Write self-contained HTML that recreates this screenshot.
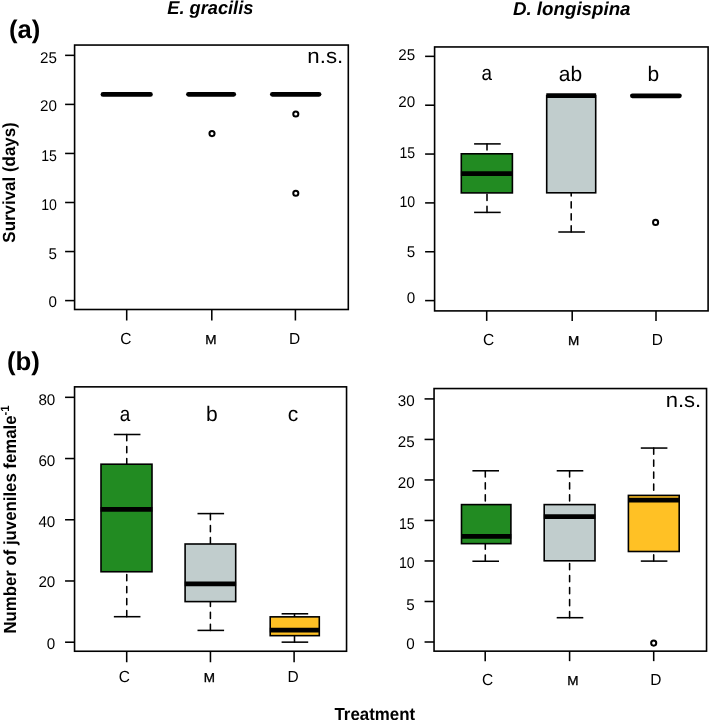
<!DOCTYPE html>
<html><head><meta charset="utf-8"><style>
html,body{margin:0;padding:0;background:#fff;overflow:hidden}
svg{display:block;will-change:transform}
text{font-family:"Liberation Sans", sans-serif;fill:#000;text-rendering:geometricPrecision}
</style></head><body>
<svg width="709" height="720" viewBox="0 0 709 720" font-family='"Liberation Sans", sans-serif'>
<rect width="709" height="720" fill="#fff"/>
<line x1="65.1" y1="300.6" x2="74.6" y2="300.6" stroke="#000" stroke-width="1.55" />
<text transform="translate(56.9 307.1) scale(0.98 1.0)" font-size="15.5" text-anchor="end" font-weight="normal" font-style="normal" >0</text>
<line x1="65.1" y1="251.55" x2="74.6" y2="251.55" stroke="#000" stroke-width="1.55" />
<text transform="translate(56.9 258.75) scale(0.98 1.0)" font-size="15.5" text-anchor="end" font-weight="normal" font-style="normal" >5</text>
<line x1="65.1" y1="202.5" x2="74.6" y2="202.5" stroke="#000" stroke-width="1.55" />
<text transform="translate(56.9 209.9) scale(0.9114 1.0)" font-size="15.5" text-anchor="end" font-weight="normal" font-style="normal" >10</text>
<line x1="65.1" y1="153.45" x2="74.6" y2="153.45" stroke="#000" stroke-width="1.55" />
<text transform="translate(56.9 160.55) scale(0.9114 1.0)" font-size="15.5" text-anchor="end" font-weight="normal" font-style="normal" >15</text>
<line x1="65.1" y1="104.4" x2="74.6" y2="104.4" stroke="#000" stroke-width="1.55" />
<text transform="translate(56.9 110.6) scale(0.98 1.0)" font-size="15.5" text-anchor="end" font-weight="normal" font-style="normal" >20</text>
<line x1="65.1" y1="55.35" x2="74.6" y2="55.35" stroke="#000" stroke-width="1.55" />
<text transform="translate(56.9 62.95) scale(0.98 1.0)" font-size="15.5" text-anchor="end" font-weight="normal" font-style="normal" >25</text>
<line x1="126.7" y1="309.5" x2="126.7" y2="320.5" stroke="#000" stroke-width="1.55" />
<text transform="translate(125.8 344.4) scale(1.0 1.04)" font-size="15.5" text-anchor="middle" font-weight="normal" font-style="normal" >C</text>
<line x1="211.8" y1="309.5" x2="211.8" y2="320.5" stroke="#000" stroke-width="1.55" />
<text transform="translate(210.8 344.4) scale(1.08 1.04)" font-size="12.5" text-anchor="middle" font-weight="normal" font-style="normal" stroke="#000" stroke-width="0.3">M</text>
<line x1="295.4" y1="309.5" x2="295.4" y2="320.5" stroke="#000" stroke-width="1.55" />
<text transform="translate(294.7 344.4) scale(1.0 1.04)" font-size="15.5" text-anchor="middle" font-weight="normal" font-style="normal" >D</text>
<line x1="102.95" y1="94.4" x2="150.45" y2="94.4" stroke="#000" stroke-width="4.7" stroke-linecap="round"/>
<line x1="188.45" y1="94.35" x2="233.75" y2="94.35" stroke="#000" stroke-width="4.7" stroke-linecap="round"/>
<circle cx="212" cy="133.6" r="2.55" fill="none" stroke="#000" stroke-width="2.0"/>
<line x1="272.35" y1="94.35" x2="319.05" y2="94.35" stroke="#000" stroke-width="4.7" stroke-linecap="round"/>
<circle cx="295.8" cy="114.05" r="2.55" fill="none" stroke="#000" stroke-width="2.0"/>
<circle cx="295.8" cy="193.2" r="2.55" fill="none" stroke="#000" stroke-width="2.0"/>
<rect x="74.6" y="45.05" width="273.7" height="264.45" fill="none" stroke="#000" stroke-width="1.6"/>
<text transform="translate(325.3 63.4) scale(1.06 1)" font-size="21" text-anchor="middle" font-weight="normal" font-style="normal" >n.s.</text>
<line x1="425.1" y1="300.6" x2="434.6" y2="300.6" stroke="#000" stroke-width="1.55" />
<text transform="translate(415.2 303.2) scale(0.98 1.0)" font-size="15.5" text-anchor="end" font-weight="normal" font-style="normal" >0</text>
<line x1="425.1" y1="251.75" x2="434.6" y2="251.75" stroke="#000" stroke-width="1.55" />
<text transform="translate(415.2 256.55) scale(0.98 1.0)" font-size="15.5" text-anchor="end" font-weight="normal" font-style="normal" >5</text>
<line x1="425.1" y1="202.9" x2="434.6" y2="202.9" stroke="#000" stroke-width="1.55" />
<text transform="translate(415.2 206.7) scale(0.9114 1.0)" font-size="15.5" text-anchor="end" font-weight="normal" font-style="normal" >10</text>
<line x1="425.1" y1="154.05" x2="434.6" y2="154.05" stroke="#000" stroke-width="1.55" />
<text transform="translate(415.2 157.65) scale(0.9114 1.0)" font-size="15.5" text-anchor="end" font-weight="normal" font-style="normal" >15</text>
<line x1="425.1" y1="105.2" x2="434.6" y2="105.2" stroke="#000" stroke-width="1.55" />
<text transform="translate(415.2 107.4) scale(0.98 1.0)" font-size="15.5" text-anchor="end" font-weight="normal" font-style="normal" >20</text>
<line x1="425.1" y1="56.35" x2="434.6" y2="56.35" stroke="#000" stroke-width="1.55" />
<text transform="translate(415.2 59.95) scale(0.98 1.0)" font-size="15.5" text-anchor="end" font-weight="normal" font-style="normal" >25</text>
<line x1="486.7" y1="310.9" x2="486.7" y2="320.9" stroke="#000" stroke-width="1.55" />
<text transform="translate(488.5 344.6) scale(1.0 1.04)" font-size="15.5" text-anchor="middle" font-weight="normal" font-style="normal" >C</text>
<line x1="572.2" y1="310.9" x2="572.2" y2="320.9" stroke="#000" stroke-width="1.55" />
<text transform="translate(573.7 344.6) scale(1.08 1.04)" font-size="12.5" text-anchor="middle" font-weight="normal" font-style="normal" stroke="#000" stroke-width="0.3">M</text>
<line x1="656" y1="310.9" x2="656" y2="320.9" stroke="#000" stroke-width="1.55" />
<text transform="translate(657.3 344.6) scale(1.0 1.04)" font-size="15.5" text-anchor="middle" font-weight="normal" font-style="normal" >D</text>
<line x1="487" y1="143.9" x2="487" y2="153.8" stroke="#000" stroke-width="1.55" stroke-dasharray="6.2 5.8" stroke-linecap="round"/>
<line x1="474.1" y1="143.9" x2="500.7" y2="143.9" stroke="#000" stroke-width="1.55" />
<line x1="487" y1="212.4" x2="487" y2="192.9" stroke="#000" stroke-width="1.55" stroke-dasharray="6.2 5.8" stroke-linecap="round"/>
<line x1="474.1" y1="212.4" x2="500.7" y2="212.4" stroke="#000" stroke-width="1.55" />
<rect x="461.3" y="153.8" width="51.1" height="39.1" fill="#228B22" stroke="#000" stroke-width="1.6"/>
<line x1="460.9" y1="173.6" x2="512.8" y2="173.6" stroke="#000" stroke-width="4.7" />
<line x1="571.2" y1="232" x2="571.2" y2="192.8" stroke="#000" stroke-width="1.55" stroke-dasharray="6.2 5.8" stroke-linecap="round"/>
<line x1="558.3" y1="232" x2="584.9" y2="232" stroke="#000" stroke-width="1.55" />
<rect x="546.7" y="95.6" width="49" height="97.2" fill="#C1CDCD" stroke="#000" stroke-width="1.6"/>
<line x1="546.3" y1="95.6" x2="596.1" y2="95.6" stroke="#000" stroke-width="4.7" />
<line x1="632.35" y1="95.85" x2="679.45" y2="95.85" stroke="#000" stroke-width="4.7" stroke-linecap="round"/>
<circle cx="655.6" cy="222.4" r="2.55" fill="none" stroke="#000" stroke-width="2.0"/>
<rect x="434.6" y="46.95" width="273.5" height="263.95" fill="none" stroke="#000" stroke-width="1.6"/>
<text transform="translate(486.7 80.4) scale(0.9 1)" font-size="21" text-anchor="middle" font-weight="normal" font-style="normal" >a</text>
<text transform="translate(570.4 80.5)" font-size="21" text-anchor="middle" font-weight="normal" font-style="normal" >ab</text>
<text transform="translate(653.4 80.5)" font-size="21" text-anchor="middle" font-weight="normal" font-style="normal" >b</text>
<line x1="65.05" y1="642.2" x2="74.55" y2="642.2" stroke="#000" stroke-width="1.55" />
<text transform="translate(55.3 648.5) scale(0.98 1.0)" font-size="15.5" text-anchor="end" font-weight="normal" font-style="normal" >0</text>
<line x1="65.05" y1="580.98" x2="74.55" y2="580.98" stroke="#000" stroke-width="1.55" />
<text transform="translate(55.3 587.43) scale(0.98 1.0)" font-size="15.5" text-anchor="end" font-weight="normal" font-style="normal" >20</text>
<line x1="65.05" y1="519.76" x2="74.55" y2="519.76" stroke="#000" stroke-width="1.55" />
<text transform="translate(55.3 526.96) scale(0.98 1.0)" font-size="15.5" text-anchor="end" font-weight="normal" font-style="normal" >40</text>
<line x1="65.05" y1="458.54" x2="74.55" y2="458.54" stroke="#000" stroke-width="1.55" />
<text transform="translate(55.3 466.44) scale(0.98 1.0)" font-size="15.5" text-anchor="end" font-weight="normal" font-style="normal" >60</text>
<line x1="65.05" y1="397.32" x2="74.55" y2="397.32" stroke="#000" stroke-width="1.55" />
<text transform="translate(55.3 405.32) scale(0.98 1.0)" font-size="15.5" text-anchor="end" font-weight="normal" font-style="normal" >80</text>
<line x1="126.7" y1="651.25" x2="126.7" y2="662.25" stroke="#000" stroke-width="1.55" />
<text transform="translate(124.3 681.9) scale(1.0 1.04)" font-size="15.5" text-anchor="middle" font-weight="normal" font-style="normal" >C</text>
<line x1="210.45" y1="651.25" x2="210.45" y2="662.25" stroke="#000" stroke-width="1.55" />
<text transform="translate(209.4 681.9) scale(1.08 1.04)" font-size="12.5" text-anchor="middle" font-weight="normal" font-style="normal" stroke="#000" stroke-width="0.3">M</text>
<line x1="294.1" y1="651.25" x2="294.1" y2="662.25" stroke="#000" stroke-width="1.55" />
<text transform="translate(293.1 681.9) scale(1.0 1.04)" font-size="15.5" text-anchor="middle" font-weight="normal" font-style="normal" >D</text>
<line x1="126.75" y1="434.5" x2="126.75" y2="464.2" stroke="#000" stroke-width="1.55" stroke-dasharray="6.2 5.8" stroke-linecap="round"/>
<line x1="113.85" y1="434.5" x2="140.45" y2="434.5" stroke="#000" stroke-width="1.55" />
<line x1="126.75" y1="616.7" x2="126.75" y2="571.75" stroke="#000" stroke-width="1.55" stroke-dasharray="6.2 5.8" stroke-linecap="round"/>
<line x1="113.85" y1="616.7" x2="140.45" y2="616.7" stroke="#000" stroke-width="1.55" />
<rect x="101" y="464.2" width="51" height="107.55" fill="#228B22" stroke="#000" stroke-width="1.6"/>
<line x1="100.6" y1="509.4" x2="152.4" y2="509.4" stroke="#000" stroke-width="4.7" />
<line x1="210.4" y1="513.6" x2="210.4" y2="544" stroke="#000" stroke-width="1.55" stroke-dasharray="6.2 5.8" stroke-linecap="round"/>
<line x1="197.5" y1="513.6" x2="224.1" y2="513.6" stroke="#000" stroke-width="1.55" />
<line x1="210.4" y1="630.4" x2="210.4" y2="601.6" stroke="#000" stroke-width="1.55" stroke-dasharray="6.2 5.8" stroke-linecap="round"/>
<line x1="197.5" y1="630.4" x2="224.1" y2="630.4" stroke="#000" stroke-width="1.55" />
<rect x="185.1" y="544" width="50.6" height="57.6" fill="#C1CDCD" stroke="#000" stroke-width="1.6"/>
<line x1="184.7" y1="583.8" x2="236.1" y2="583.8" stroke="#000" stroke-width="4.7" />
<line x1="294.5" y1="613.8" x2="294.5" y2="616.85" stroke="#000" stroke-width="1.55" stroke-dasharray="6.2 5.8" stroke-linecap="round"/>
<line x1="281.6" y1="613.8" x2="308.2" y2="613.8" stroke="#000" stroke-width="1.55" />
<line x1="294.5" y1="642.15" x2="294.5" y2="635.65" stroke="#000" stroke-width="1.55" stroke-dasharray="6.2 5.8" stroke-linecap="round"/>
<line x1="281.6" y1="642.15" x2="308.2" y2="642.15" stroke="#000" stroke-width="1.55" />
<rect x="270.2" y="616.85" width="49.1" height="18.8" fill="#FFC125" stroke="#000" stroke-width="1.6"/>
<line x1="269.8" y1="630.2" x2="319.7" y2="630.2" stroke="#000" stroke-width="4.7" />
<rect x="74.55" y="386.85" width="272" height="264.4" fill="none" stroke="#000" stroke-width="1.6"/>
<text transform="translate(125.1 420.9) scale(0.9 1)" font-size="21" text-anchor="middle" font-weight="normal" font-style="normal" >a</text>
<text transform="translate(211.8 421.2)" font-size="21" text-anchor="middle" font-weight="normal" font-style="normal" >b</text>
<text transform="translate(293 421.2)" font-size="21" text-anchor="middle" font-weight="normal" font-style="normal" >c</text>
<line x1="424.55" y1="642" x2="434.05" y2="642" stroke="#000" stroke-width="1.55" />
<text transform="translate(414.7 648.5) scale(0.98 1.0)" font-size="15.5" text-anchor="end" font-weight="normal" font-style="normal" >0</text>
<line x1="424.55" y1="601.49" x2="434.05" y2="601.49" stroke="#000" stroke-width="1.55" />
<text transform="translate(414.7 609.53) scale(0.98 1.0)" font-size="15.5" text-anchor="end" font-weight="normal" font-style="normal" >5</text>
<line x1="424.55" y1="560.97" x2="434.05" y2="560.97" stroke="#000" stroke-width="1.55" />
<text transform="translate(414.7 568.27) scale(0.9114 1.0)" font-size="15.5" text-anchor="end" font-weight="normal" font-style="normal" >10</text>
<line x1="424.55" y1="520.46" x2="434.05" y2="520.46" stroke="#000" stroke-width="1.55" />
<text transform="translate(414.7 529.06) scale(0.9114 1.0)" font-size="15.5" text-anchor="end" font-weight="normal" font-style="normal" >15</text>
<line x1="424.55" y1="479.94" x2="434.05" y2="479.94" stroke="#000" stroke-width="1.55" />
<text transform="translate(414.7 487.99) scale(0.98 1.0)" font-size="15.5" text-anchor="end" font-weight="normal" font-style="normal" >20</text>
<line x1="424.55" y1="439.43" x2="434.05" y2="439.43" stroke="#000" stroke-width="1.55" />
<text transform="translate(414.7 447.48) scale(0.98 1.0)" font-size="15.5" text-anchor="end" font-weight="normal" font-style="normal" >25</text>
<line x1="424.55" y1="398.91" x2="434.05" y2="398.91" stroke="#000" stroke-width="1.55" />
<text transform="translate(414.7 406.11) scale(0.98 1.0)" font-size="15.5" text-anchor="end" font-weight="normal" font-style="normal" >30</text>
<line x1="485.2" y1="651.15" x2="485.2" y2="661.15" stroke="#000" stroke-width="1.55" />
<text transform="translate(487.7 684.9) scale(1.0 1.04)" font-size="15.5" text-anchor="middle" font-weight="normal" font-style="normal" >C</text>
<line x1="569.6" y1="651.15" x2="569.6" y2="661.15" stroke="#000" stroke-width="1.55" />
<text transform="translate(572.9 684.9) scale(1.08 1.04)" font-size="12.5" text-anchor="middle" font-weight="normal" font-style="normal" stroke="#000" stroke-width="0.3">M</text>
<line x1="653.7" y1="651.15" x2="653.7" y2="661.15" stroke="#000" stroke-width="1.55" />
<text transform="translate(655.8 684.9) scale(1.0 1.04)" font-size="15.5" text-anchor="middle" font-weight="normal" font-style="normal" >D</text>
<line x1="485.3" y1="470.8" x2="485.3" y2="504.6" stroke="#000" stroke-width="1.55" stroke-dasharray="6.2 5.8" stroke-linecap="round"/>
<line x1="472.4" y1="470.8" x2="499" y2="470.8" stroke="#000" stroke-width="1.55" />
<line x1="485.3" y1="561.25" x2="485.3" y2="543.65" stroke="#000" stroke-width="1.55" stroke-dasharray="6.2 5.8" stroke-linecap="round"/>
<line x1="472.4" y1="561.25" x2="499" y2="561.25" stroke="#000" stroke-width="1.55" />
<rect x="461.5" y="504.6" width="49.4" height="39.05" fill="#228B22" stroke="#000" stroke-width="1.6"/>
<line x1="461.1" y1="536.45" x2="511.3" y2="536.45" stroke="#000" stroke-width="4.7" />
<line x1="569.6" y1="470.8" x2="569.6" y2="504.6" stroke="#000" stroke-width="1.55" stroke-dasharray="6.2 5.8" stroke-linecap="round"/>
<line x1="556.7" y1="470.8" x2="583.3" y2="470.8" stroke="#000" stroke-width="1.55" />
<line x1="569.6" y1="617.7" x2="569.6" y2="560.8" stroke="#000" stroke-width="1.55" stroke-dasharray="6.2 5.8" stroke-linecap="round"/>
<line x1="556.7" y1="617.7" x2="583.3" y2="617.7" stroke="#000" stroke-width="1.55" />
<rect x="544.2" y="504.6" width="50.8" height="56.2" fill="#C1CDCD" stroke="#000" stroke-width="1.6"/>
<line x1="543.8" y1="516.6" x2="595.4" y2="516.6" stroke="#000" stroke-width="4.7" />
<line x1="653.7" y1="448.05" x2="653.7" y2="495.4" stroke="#000" stroke-width="1.55" stroke-dasharray="6.2 5.8" stroke-linecap="round"/>
<line x1="640.8" y1="448.05" x2="667.4" y2="448.05" stroke="#000" stroke-width="1.55" />
<line x1="653.7" y1="561.1" x2="653.7" y2="551.5" stroke="#000" stroke-width="1.55" stroke-dasharray="6.2 5.8" stroke-linecap="round"/>
<line x1="640.8" y1="561.1" x2="667.4" y2="561.1" stroke="#000" stroke-width="1.55" />
<rect x="628.4" y="495.4" width="50.8" height="56.1" fill="#FFC125" stroke="#000" stroke-width="1.6"/>
<line x1="628" y1="500.1" x2="679.6" y2="500.1" stroke="#000" stroke-width="4.7" />
<circle cx="653.7" cy="643.1" r="2.55" fill="none" stroke="#000" stroke-width="2.0"/>
<rect x="434.05" y="388.55" width="272.5" height="262.6" fill="none" stroke="#000" stroke-width="1.6"/>
<text transform="translate(683.4 407.4) scale(1.05 1)" font-size="21" text-anchor="middle" font-weight="normal" font-style="normal" >n.s.</text>
<text transform="translate(210.3 13.8) scale(0.985 1)" font-size="18.5" text-anchor="middle" font-weight="bold" font-style="italic" >E. gracilis</text>
<text transform="translate(571.7 15.2) scale(1.013 1)" font-size="18.5" text-anchor="middle" font-weight="bold" font-style="italic" >D. longispina</text>
<text transform="translate(8.9 38.4)" font-size="25.6" text-anchor="start" font-weight="bold" font-style="normal" >(a)</text>
<text transform="translate(7 369.5)" font-size="25.8" text-anchor="start" font-weight="bold" font-style="normal" >(b)</text>
<text transform="translate(14.7 182.45) rotate(-90) scale(0.967 1)" font-size="17.5" text-anchor="middle" font-weight="bold" font-style="normal" >Survival (days)</text>
<text transform="translate(16.4 519.4) rotate(-90) scale(0.958 1)" font-size="17.5" text-anchor="middle" font-weight="bold">Number of juveniles female<tspan font-size="12" dy="-7">-1</tspan></text>
<text transform="translate(374.8 720) scale(0.966 1)" font-size="17.5" text-anchor="middle" font-weight="bold" font-style="normal" >Treatment</text>
</svg>
</body></html>
